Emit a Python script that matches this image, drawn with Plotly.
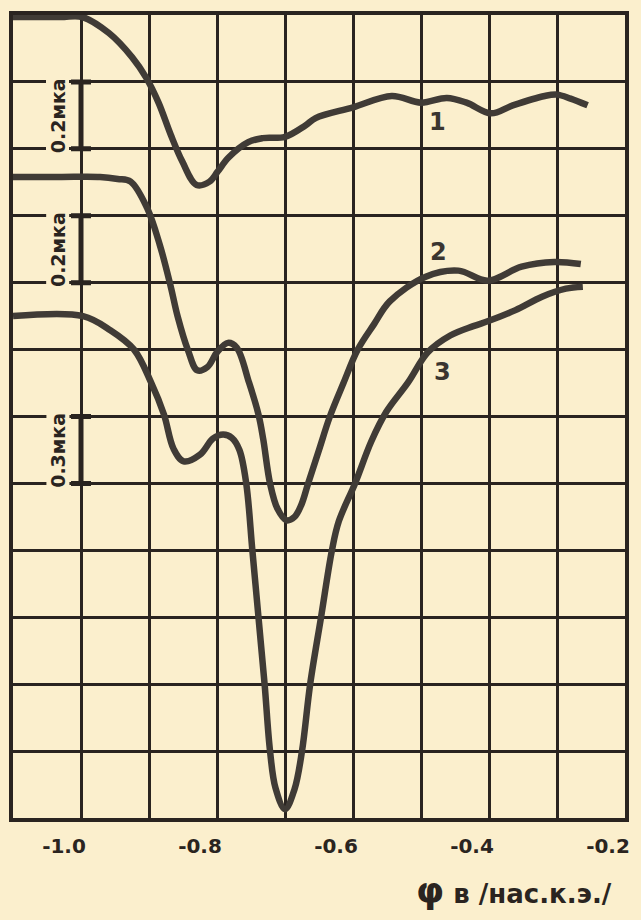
import plotly.graph_objects as go

# ---- data (potential, V vs sat. calomel electrode; current in grid units) ----
curve1_x = [-1.1, -1.03, -0.998, -0.959, -0.925, -0.904, -0.886, -0.868, -0.851, -0.830,
            -0.811, -0.799, -0.783, -0.754, -0.733, -0.700, -0.670, -0.655, -0.600,
            -0.543, -0.500, -0.462, -0.433, -0.397, -0.365, -0.318, -0.300, -0.280, -0.255]
curve1_y = [11.97, 11.97, 11.97, 11.73, 11.37, 11.06, 10.69, 10.21, 9.81, 9.46,
            9.51, 9.66, 9.87, 10.10, 10.16, 10.18, 10.35, 10.46, 10.62,
            10.79, 10.69, 10.76, 10.69, 10.53, 10.65, 10.79, 10.81, 10.75, 10.65]

curve2_x = [-1.1, -1.032, -0.972, -0.946, -0.927, -0.903, -0.884, -0.868, -0.858, -0.843,
            -0.829, -0.814, -0.800, -0.784, -0.771, -0.753, -0.739, -0.732, -0.722, -0.711,
            -0.698, -0.686, -0.676, -0.666, -0.650, -0.634, -0.614, -0.593, -0.569, -0.546,
            -0.493, -0.445, -0.402, -0.352, -0.304, -0.265]
curve2_y = [9.58, 9.58, 9.58, 9.55, 9.51, 9.12, 8.56, 7.94, 7.50, 7.00,
            6.69, 6.74, 6.96, 7.10, 7.03, 6.51, 6.03, 5.66, 5.00, 4.62,
            4.45, 4.50, 4.68, 5.00, 5.50, 6.00, 6.50, 7.00, 7.38, 7.72,
            8.09, 8.18, 8.03, 8.24, 8.31, 8.28]

curve3_x = [-1.1, -0.997, -0.957, -0.922, -0.897, -0.878, -0.864, -0.849, -0.825, -0.806,
            -0.791, -0.778, -0.767, -0.757, -0.748, -0.739, -0.730, -0.722, -0.714, -0.700,
            -0.686, -0.675, -0.663, -0.647, -0.631, -0.621, -0.597, -0.573, -0.551, -0.519,
            -0.490, -0.457, -0.423, -0.400, -0.361, -0.322, -0.287, -0.262]
curve3_y = [7.50, 7.50, 7.29, 7.00, 6.51, 6.03, 5.52, 5.33, 5.43, 5.67,
            5.73, 5.68, 5.50, 5.00, 4.00, 3.00, 2.00, 1.00, 0.45, 0.13,
            0.43, 1.00, 2.00, 3.00, 4.00, 4.43, 5.00, 5.63, 6.07, 6.51,
            6.96, 7.21, 7.35, 7.43, 7.59, 7.79, 7.91, 7.94]

curve_labels = ["1", "2", "3"]
curve_label_x = [-0.476, -0.474, -0.469]
curve_label_y = [10.40, 8.46, 6.66]

scale_x = [-1.0, -1.0, -1.0]
scale_center = [10.5, 8.5, 5.5]
scale_half = [0.5, 0.5, 0.5]
scale_labels = ["0.2мка", "0.2мка", "0.3мка"]
scale_label_x = -1.034

x_grid = [-1.1, -1.0, -0.9, -0.8, -0.7, -0.6, -0.5, -0.4, -0.3, -0.2]
x_ticktext = ["", "-1.0", "", "-0.8", "", "-0.6", "", "-0.4", "", "-0.2"]
x_title = "<span style='font-size:36px'>φ</span> в /нас.к.э./"

# ---- styling ----
PAPER = "#fbefcd"
INK = "#2a2420"
CURVE = "#403b36"

fig = go.Figure()
for xs, ys in [(curve1_x, curve1_y), (curve2_x, curve2_y), (curve3_x, curve3_y)]:
    fig.add_trace(go.Scatter(x=xs, y=ys, mode="lines",
                             line=dict(color=CURVE, width=6.5, shape="spline", smoothing=1.0),
                             hoverinfo="skip", showlegend=False))

fig.add_trace(go.Scatter(x=scale_x, y=scale_center, mode="markers",
                         marker=dict(size=1, color="rgba(0,0,0,0)"),
                         error_y=dict(type="data", array=scale_half, thickness=5,
                                      width=10, color=INK),
                         hoverinfo="skip", showlegend=False))

for t, y in zip(scale_labels, scale_center):
    fig.add_annotation(x=scale_label_x, y=y, text="<b>" + t + "</b>", textangle=-90,
                       showarrow=False,
                       font=dict(family="DejaVu Sans", size=19, color=INK),
                       bgcolor=PAPER, borderpad=0)

for t, x, y in zip(curve_labels, curve_label_x, curve_label_y):
    fig.add_annotation(x=x, y=y, text="<b>" + t + "</b>", showarrow=False,
                       font=dict(family="DejaVu Sans", size=24, color="#3a3530"))

fig.add_annotation(xref="paper", yref="paper", x=0.818, y=-0.090, text="<b>" + x_title + "</b>",
                   showarrow=False, xanchor="center", yanchor="middle",
                   font=dict(family="DejaVu Sans", size=26, color=INK))

fig.update_xaxes(range=[-1.1, -0.2], tickmode="array", tickvals=x_grid, ticktext=x_ticktext,
                 showgrid=True, gridcolor=INK, gridwidth=3, zeroline=False,
                 showline=True, mirror=True, linecolor=INK, linewidth=4,
                 ticks="", ticklabelstandoff=7, ticklabelshift=-17,
                 tickfont=dict(family="DejaVu Sans", size=20, color=INK, weight="bold"))
fig.update_yaxes(range=[0, 12], dtick=1, tick0=0, showgrid=True, gridcolor=INK, gridwidth=3,
                 zeroline=False, showline=True, mirror=True, linecolor=INK, linewidth=4,
                 showticklabels=False, ticks="")

fig.update_layout(width=641, height=920, margin=dict(l=13, r=11, t=13, b=102),
                  paper_bgcolor=PAPER, plot_bgcolor=PAPER, showlegend=False)

fig.write_html("out.html", config={"displayModeBar": False},
               post_script="document.body.style.margin='0';document.body.style.background='"
                           + PAPER + "';")
